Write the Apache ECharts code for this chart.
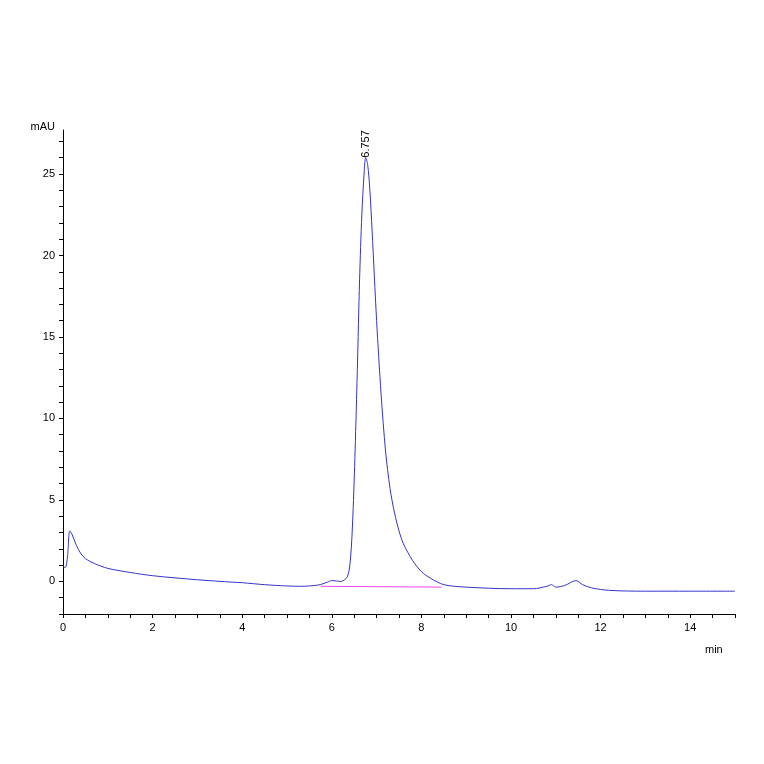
<!DOCTYPE html>
<html>
<head>
<meta charset="utf-8">
<script src="https://cdn.jsdelivr.net/npm/echarts@6/dist/echarts.min.js"></script>
<style>html,body{margin:0;background:#fff}#chart{width:764px;height:764px}</style>
</head>
<body>
<div id="chart"></div>
<script>
// 保留时间 (min) 与信号 (mAU)
var times = [0, 0.05, 0.1, 0.15, 0.2, 0.3, 0.4, 0.5, 0.7, 1, 1.5, 2, 3, 3.8, 4, 4.5, 5, 5.3, 5.7, 5.9, 6.0, 6.2, 6.35, 6.42, 6.47, 6.52, 6.57, 6.62, 6.67, 6.72, 6.757, 6.8, 6.85, 6.9, 7.0, 7.1, 7.2, 7.3, 7.4, 7.5, 7.6, 7.8, 8.0, 8.2, 8.5, 9, 10, 10.5, 10.8, 10.9, 11.0, 11.2, 11.45, 11.6, 11.8, 12.2, 13, 14, 15];
var signal = [0.9, 0.85, 1.5, 3.1, 2.9, 2.2, 1.7, 1.4, 1.1, 0.8, 0.55, 0.35, 0.1, -0.05, -0.08, -0.2, -0.28, -0.3, -0.22, -0.05, 0.05, 0.0, 0.3, 1.5, 4, 8, 13, 18.5, 22.5, 25, 26, 25.6, 24, 21.5, 16, 11.5, 8, 5.7, 4.2, 3.1, 2.3, 1.3, 0.6, 0.2, -0.2, -0.35, -0.45, -0.45, -0.3, -0.2, -0.35, -0.25, 0.05, -0.2, -0.4, -0.55, -0.6, -0.6, -0.6];
var baseX = [5.75, 8.45];
var baseY = [-0.3, -0.35];
var peakT = 6.757, peakV = 26;

var chart = echarts.init(document.getElementById('chart'));
var line = times.map(function (t, i) { return [t, signal[i]]; });
var base = baseX.map(function (t, i) { return [t, baseY[i]]; });

chart.setOption({
    animation: false,
    grid: { left: 63, right: 29, top: 130, bottom: 150 },
    xAxis: {
        type: 'value', min: 0, max: 15, interval: 0.5,
        name: 'min', nameLocation: 'end', nameGap: -30,
        nameTextStyle: { color: '#000', fontSize: 11, padding: [30, 0, 0, 0], verticalAlign: 'top' },
        axisLine: { onZero: false, lineStyle: { color: '#000' } },
        axisTick: { length: 4, lineStyle: { color: '#000' } },
        axisLabel: {
            color: '#000', fontSize: 11, fontFamily: 'Liberation Sans',
            formatter: function (v) { return (v % 2 === 0 && v < 15) ? v : ''; }
        },
        splitLine: { show: false }
    },
    yAxis: {
        type: 'value', min: -2, max: 27.7, interval: 1,
        name: 'mAU', nameLocation: 'end', nameGap: -2,
        nameTextStyle: { color: '#000', fontSize: 11, align: 'right', padding: [0, 8, 0, 0] },
        axisLine: { show: true, onZero: false, lineStyle: { color: '#000' } },
        axisTick: { show: true, length: 4, lineStyle: { color: '#000' } },
        axisLabel: {
            color: '#000', fontSize: 11, fontFamily: 'Liberation Sans', showMaxLabel: false,
            formatter: function (v) { return v % 5 === 0 ? v : ''; }
        },
        splitLine: { show: false }
    },
    series: [
        {
            type: 'line', data: line, symbol: 'none', smooth: 0.3,
            lineStyle: { color: '#3333cc', width: 1 },
            markPoint: {
                symbol: 'circle', symbolSize: 0,
                data: [{ coord: [peakT, peakV] }],
                label: {
                    show: true, formatter: '6.757', rotate: 90, color: '#000',
                    fontSize: 11, position: 'top', align: 'left', verticalAlign: 'middle', distance: 0
                }
            }
        },
        {
            type: 'line', data: base, symbol: 'none',
            lineStyle: { color: '#ee44ee', width: 1 }
        }
    ]
});
</script>
</body>
</html>
